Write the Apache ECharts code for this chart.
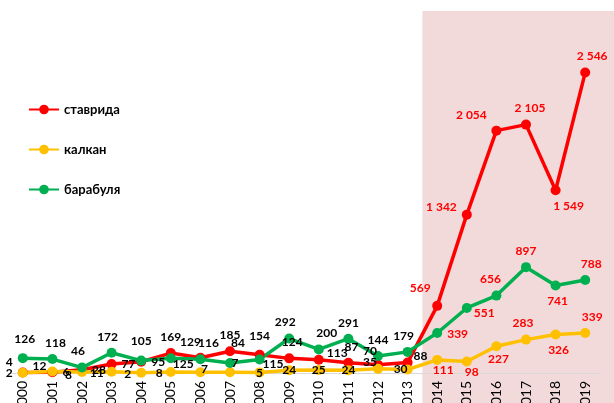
<!DOCTYPE html>
<html>
<head>
<meta charset="utf-8">
<script src="https://cdn.jsdelivr.net/npm/echarts@6/dist/echarts.min.js"></script>
<style>
  html, body { margin: 0; padding: 0; background: #fff; }
  #chart { width: 614px; height: 403px; }
</style>
</head>
<body>
<div id="chart"></div>
<script>
  // годы
  var years = ['2000', '2001', '2002', '2003', '2004', '2005', '2006', '2007', '2008', '2009',
               '2010', '2011', '2012', '2013', '2014', '2015', '2016', '2017', '2018', '2019'];
  var stavrida = [4, 6, 28, 77, 95, 169, 129, 185, 154, 124, 113, 87, 70, 88, 569, 1342, 2054, 2105, 1549, 2546];
  var kalkan = [2, 12, 8, 11, 2, 8, 7, 7, 5, 24, 25, 24, 35, 30, 111, 98, 227, 283, 326, 339];
  var barabulya = [126, 118, 46, 172, 105, 125, 116, 84, 115, 292, 200, 291, 144, 179, 339, 551, 656, 897, 741, 788];

  // положение подписей: [position, dx, dy]
  var stavridaLbl = [
    ['left', 0, -10], ['right', 0, 0], ['right', 0, 0], ['right', 0, 0], ['right', 0, 0],
    ['top', 0, 0], ['top', -10, 0], ['top', 0, 0], ['top', 0, -3], ['top', 3, 0],
    ['right', -2, -7], ['top', 3, 0], ['top', -8, 2], ['right', -4, -6], ['top', -17, -2],
    ['left', 0, -8], ['top', -25, 0], ['top', 4, 0], ['bottom', 13, 0], ['top', 7, 0]
  ];
  var kalkanLbl = [
    ['left', 0, 0], ['left', 4, -5], ['left', 0, 3], ['left', 2, 1], ['left', 0, 1],
    ['left', 2, 1], ['inside', 4, -3], ['inside', 5, -9], ['inside', 0, 1], ['inside', 0, 0],
    ['inside', 0, 0], ['inside', 0, 0], ['inside', -8, -7], ['inside', -7, 0], ['bottom', 6, -6],
    ['bottom', 5, -5], ['bottom', 2, -3], ['top', -3, 0], ['bottom', 3, 0], ['top', 7, 0]
  ];
  var barabulyaLbl = [
    ['top', 2, -3], ['top', 3, 0], ['top', -4, 0], ['top', -4, 0], ['top', 0, -3],
    ['right', -8, 6], ['top', 8, 0], ['top', 8, -4], ['right', -7, 5], ['top', -4, 0],
    ['top', 8, 0], ['top', 0, 0], ['top', 0, 0], ['top', -4, 0], ['right', 0, 1],
    ['right', -3, 5], ['top', -6, 0], ['top', 0, 0], ['bottom', 2, 0], ['top', 6, 0]
  ];

  function fmt(v) {
    return String(v).replace(/\B(?=(\d{3})+(?!\d))/g, ' ');
  }

  function buildData(values, lbls) {
    return values.map(function (v, i) {
      var l = lbls[i];
      return {
        value: v,
        label: {
          position: l[0],
          offset: [l[1], l[2]],
          color: i >= 14 ? '#FF0000' : '#000000'
        }
      };
    });
  }

  function lineSeries(name, color, values, lbls) {
    return {
      name: name,
      type: 'line',
      data: buildData(values, lbls),
      symbol: 'circle',
      symbolSize: 10,
      lineStyle: { width: 3.5, color: color },
      itemStyle: { color: color },
      label: {
        show: true,
        fontFamily: 'Lato',
        fontWeight: 'bold',
        fontSize: 12,
        formatter: function (p) { return fmt(p.value); }
      },
      emphasis: { disabled: true },
      animation: false
    };
  }

  var chart = echarts.init(document.getElementById('chart'));
  var option = {
    backgroundColor: '#ffffff',
    animation: false,
    grid: { left: 8, right: 14, top: 19, bottom: 30, containLabel: false, outerBoundsMode: 'none' },
    legend: {
      orient: 'vertical',
      left: 28,
      top: 103,
      padding: 0,
      itemWidth: 30,
      itemHeight: 12,
      itemGap: 27,
      textStyle: { fontFamily: 'Lato', fontWeight: 'bold', fontSize: 13, color: '#000' },
      data: ['ставрида', 'калкан', 'барабуля']
    },
    xAxis: {
      type: 'category',
      data: years,
      boundaryGap: true,
      axisLine: { lineStyle: { color: '#D9D9D9', width: 1 } },
      axisTick: { show: false },
      axisLabel: {
        rotate: 90,
        margin: 8,
        interval: 0,
        color: '#000',
        fontFamily: 'Lato',
        fontSize: 14
      }
    },
    yAxis: {
      type: 'value',
      min: 0,
      max: 3000,
      show: false,
      splitLine: { show: false }
    },
    series: [
      lineSeries('ставрида', '#FF0000', stavrida, stavridaLbl),
      lineSeries('калкан', '#FFC000', kalkan, kalkanLbl),
      lineSeries('барабуля', '#00B050', barabulya, barabulyaLbl)
    ]
  };
  chart.setOption(option);

  // розовая подложка с 2014 года
  var xa = chart.convertToPixel({ xAxisIndex: 0 }, '2013');
  var xb = chart.convertToPixel({ xAxisIndex: 0 }, '2014');
  var x0 = (xa + xb) / 2;
  chart.setOption({
    graphic: [{
      type: 'rect',
      z: -10,
      shape: { x: x0, y: 11, width: 614 - x0, height: 403 - 11 },
      style: { fill: '#F2DADB' },
      silent: true
    }]
  });
</script>
</body>
</html>
